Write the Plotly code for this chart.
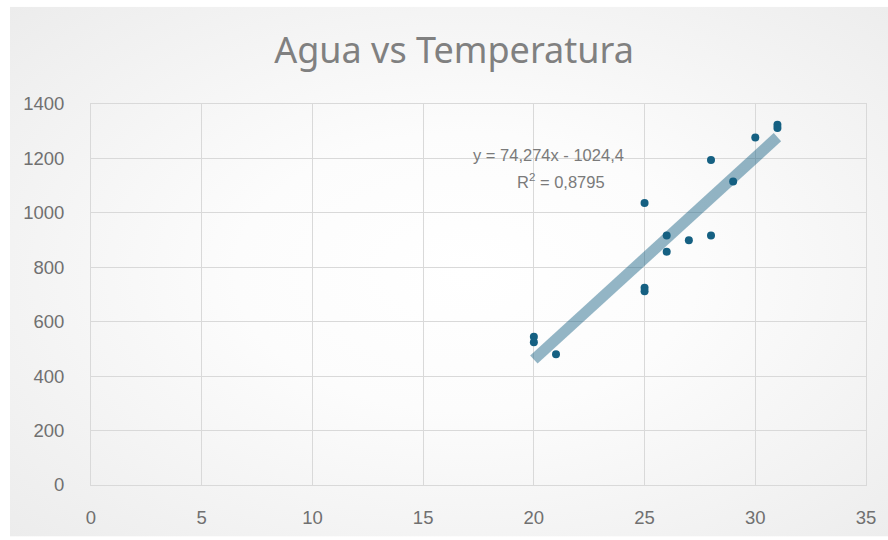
import base64
import plotly.graph_objects as go

# ---- data ----
temperatura = [20, 20, 21, 25, 25, 25, 26, 26, 27, 28, 28, 29, 30, 31, 31]
agua = [545, 525, 480, 1036, 725, 712, 917, 857, 899, 917, 1194, 1115, 1277, 1324, 1312]

trend_slope = 74.274
trend_intercept = -1024.4
trend_r2 = 0.8795
trend_x = [20, 31]

x_ticks = [0, 5, 10, 15, 20, 25, 30, 35]
y_ticks = [0, 200, 400, 600, 800, 1000, 1200, 1400]

title_text = "Agua vs Temperatura"
eq_line1 = "y = 74,274x - 1024,4"
eq_line2 = "R<sup>2</sup> = 0,8795"

# ---- figure geometry ----
W, H = 888, 540
L, R, T, B = 91, 22, 104, 52
pw, ph = W - L - R, H - T - B

FONT = "Liberation Sans, Arial, sans-serif"
TITLE_FONT = "Noto Sans, Open Sans, sans-serif"
marker_color = "#156082"
trend_color = "rgba(21,96,130,0.46)"
grid_color = "#d9d9d9"
tick_color = "#707070"

trend_y = [trend_slope * x + trend_intercept for x in trend_x]

fig = go.Figure()
fig.add_trace(go.Scatter(
    x=temperatura, y=agua, mode="markers",
    marker=dict(color=marker_color, size=8),
    showlegend=False, hoverinfo="x+y",
))
fig.add_trace(go.Scatter(
    x=trend_x, y=trend_y, mode="lines",
    line=dict(color=trend_color, width=11),
    showlegend=False, hoverinfo="skip",
))

# radial gradient background for the chart area
svg = (
    '<svg xmlns="http://www.w3.org/2000/svg" width="878" height="534" '
    'viewBox="0 0 100 100" preserveAspectRatio="none">'
    '<defs><radialGradient id="g" cx="52%" cy="50%" r="75%">'
    '<stop offset="0" stop-color="#ffffff"/>'
    '<stop offset="0.35" stop-color="#fcfcfc"/>'
    '<stop offset="1" stop-color="#ebebeb"/>'
    '</radialGradient></defs>'
    '<rect x="0" y="0" width="100" height="100" fill="url(#g)"/></svg>'
)
src = "data:image/svg+xml;base64," + base64.b64encode(svg.encode()).decode()
cx0, cy0, cx1, cy1 = 10, 6, 888, 540
fig.add_layout_image(dict(
    source=src, xref="paper", yref="paper",
    x=(cx0 - L) / pw, y=(H - B - cy0) / ph,
    sizex=(cx1 - cx0) / pw, sizey=(cy1 - cy0) / ph,
    xanchor="left", yanchor="top", sizing="stretch", layer="below",
))

fig.add_annotation(x=20.64, y=1212, xref="x", yref="y", text=eq_line1,
                   showarrow=False, font=dict(family=FONT, size=16.5, color="#7a7a7a"))
fig.add_annotation(x=21.23, y=1118, xref="x", yref="y", text=eq_line2,
                   showarrow=False, font=dict(family=FONT, size=16.5, color="#7a7a7a"))

fig.update_layout(
    width=W, height=H,
    margin=dict(l=L, r=R, t=T, b=B, pad=0),
    paper_bgcolor="#ffffff",
    plot_bgcolor="rgba(0,0,0,0)",
    title=dict(text=title_text, x=454 / W, xanchor="center",
               y=1 - 50 / H, yanchor="middle", yref="container",
               font=dict(family=TITLE_FONT, size=36, color="#808080")),
    xaxis=dict(range=[0, 35], tickvals=x_ticks, showgrid=True, gridcolor=grid_color,
               gridwidth=1, zeroline=False, showline=True, mirror=True,
               linecolor=grid_color, linewidth=1, ticks="",
               ticklabelstandoff=16,
               tickfont=dict(family=FONT, size=18.5, color=tick_color)),
    yaxis=dict(range=[0, 1400], tickvals=y_ticks, showgrid=True, gridcolor=grid_color,
               gridwidth=1, zeroline=False, showline=True, mirror=True,
               linecolor=grid_color, linewidth=1, ticks="",
               ticklabelstandoff=22,
               tickfont=dict(family=FONT, size=18.5, color=tick_color)),
)

fig.write_html("out.html", config={"displayModeBar": False},
               post_script="document.body.style.margin='0';document.body.style.overflow='hidden';")
